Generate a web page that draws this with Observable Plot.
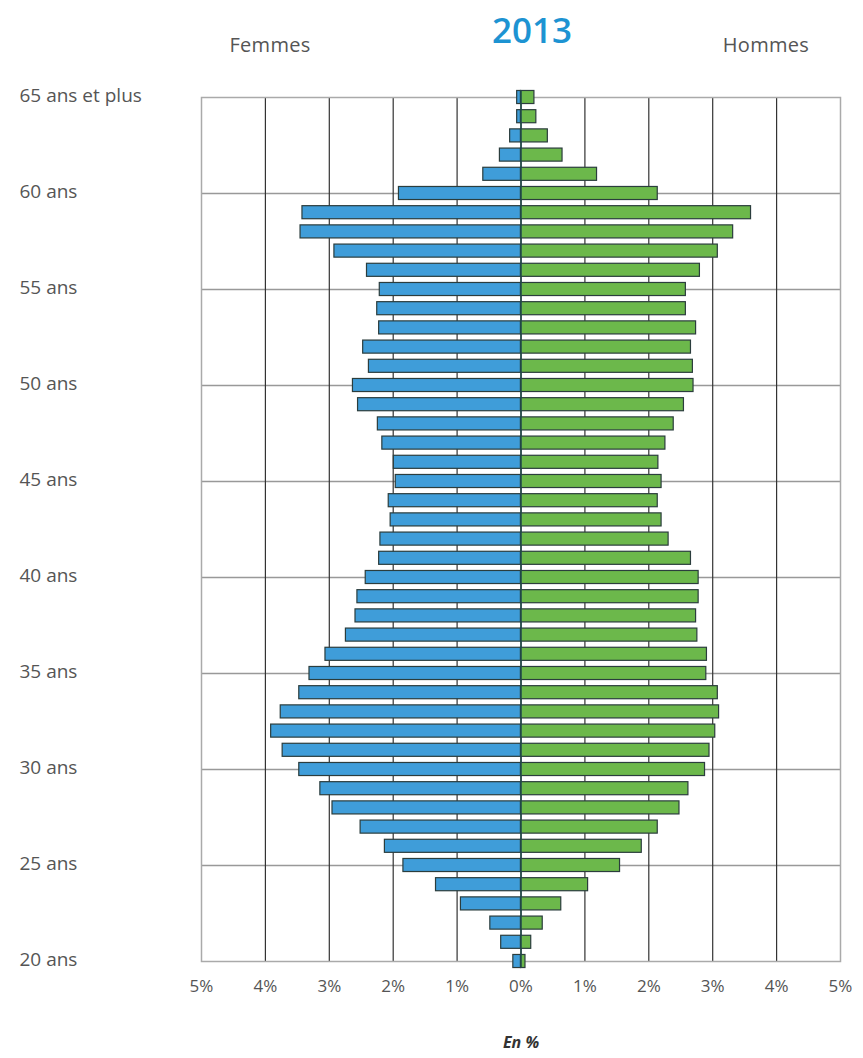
<!DOCTYPE html>
<html>
<head>
<meta charset="utf-8">
<script src="https://cdn.jsdelivr.net/npm/d3@7"></script>
<script src="https://cdn.jsdelivr.net/npm/@observablehq/plot@0.6"></script>
<style>
  html, body { margin: 0; padding: 0; background: #fff; }
  #wrap { position: relative; width: 863px; height: 1058px; font-family: "Open Sans", Lato, sans-serif; }
  .lbl { position: absolute; color: #555; font-size: 20px; transform: translateX(-50%); white-space: nowrap; letter-spacing: 0.3px; }
  #title { position: absolute; left: 532px; top: 6px; transform: translateX(-50%); color: #1d93d2; font-weight: 600; font-size: 35px; font-family: "Open Sans", sans-serif; }
  #unit { position: absolute; left: 521px; top: 1031px; transform: translateX(-50%); color: #333; font-weight: 700; font-style: italic; font-size: 16px; }
  #chart { position: absolute; left: 0; top: 0; }
</style>
</head>
<body>
<div id="wrap">
  <div id="chart"></div>
  <div id="title">2013</div>
  <div class="lbl" style="left:270px; top:31px;">Femmes</div>
  <div class="lbl" style="left:766px; top:31px;">Hommes</div>
  <div id="unit">En %</div>
</div>
<script>
// Ages, top (65 et plus) to bottom (20 ans)
const ages = [65,64,63,62,61,60,59,58,57,56,55,54,53,52,51,50,49,48,47,46,45,44,43,42,41,40,39,38,37,36,35,34,33,32,31,30,29,28,27,26,25,24,23,22,21,20];
// Femmes (%)
const femmes = [0.06,0.06,0.17,0.33,0.59,1.91,3.42,3.45,2.92,2.41,2.21,2.25,2.22,2.47,2.38,2.63,2.55,2.24,2.17,1.99,1.96,2.07,2.04,2.20,2.22,2.43,2.56,2.59,2.74,3.06,3.31,3.47,3.76,3.91,3.73,3.47,3.14,2.95,2.51,2.13,1.84,1.33,0.94,0.48,0.31,0.12];
// Hommes (%)
const hommes = [0.21,0.24,0.42,0.65,1.19,2.14,3.60,3.32,3.08,2.80,2.58,2.58,2.74,2.66,2.69,2.70,2.55,2.39,2.26,2.15,2.20,2.14,2.20,2.31,2.66,2.78,2.78,2.74,2.76,2.91,2.90,3.08,3.10,3.04,2.95,2.88,2.62,2.48,2.14,1.89,1.55,1.05,0.63,0.34,0.16,0.07];
// Axis ticks
const yTicks = [65,60,55,50,45,40,35,30,25,20];
const yTickLabels = ["65 ans et plus","60 ans","55 ans","50 ans","45 ans","40 ans","35 ans","30 ans","25 ans","20 ans"];
const xTicks = [-5,-4,-3,-2,-1,0,1,2,3,4,5];
const xTickLabels = ["5%","4%","3%","2%","1%","0%","1%","2%","3%","4%","5%"];

const rows = ages.map((a, i) => ({age: a, f: femmes[i], h: hommes[i]}));
const half = 0.34;

const chart = Plot.plot({
  width: 863,
  height: 1058,
  marginTop: 97,
  marginBottom: 97,
  marginLeft: 201,
  marginRight: 23,
  style: {fontFamily: "'Open Sans', Lato, sans-serif", background: "transparent"},
  x: {domain: [-5, 5]},
  y: {domain: [20, 65]},
  marks: [
    Plot.ruleY(yTicks.filter(d => d !== 65 && d !== 20), {stroke: "#999", strokeWidth: 1.3}),
    Plot.ruleX(xTicks.filter(d => Math.abs(d) !== 5), {stroke: "#333", strokeWidth: 1.2}),
    Plot.frame({stroke: "#aaa", strokeWidth: 1.5}),
    Plot.rectX(rows, {x1: 0, x2: d => -d.f, y1: d => d.age - half, y2: d => d.age + half, fill: "#3f9dd9", stroke: "#2b3d3d", strokeWidth: 1.2}),
    Plot.rectX(rows, {x1: 0, x2: d => d.h, y1: d => d.age - half, y2: d => d.age + half, fill: "#6cb84b", stroke: "#2b3d3d", strokeWidth: 1.2}),
    Plot.ruleX([0], {stroke: "#1f4a4a", strokeWidth: 1.5, y1: 20 - half, y2: 65 + half}),
    Plot.axisY({ticks: yTicks, tickFormat: d => yTickLabels[yTicks.indexOf(d)], tickSize: 0, textAnchor: "start", dx: -173, dy: -2, fontSize: 19, fill: "#555", label: null}),
    Plot.axisX({ticks: xTicks, tickFormat: d => xTickLabels[xTicks.indexOf(d)], tickSize: 0, tickPadding: 18, fontSize: 17, fill: "#555", label: null})
  ]
});
document.getElementById("chart").appendChild(chart);
</script>
</body>
</html>
